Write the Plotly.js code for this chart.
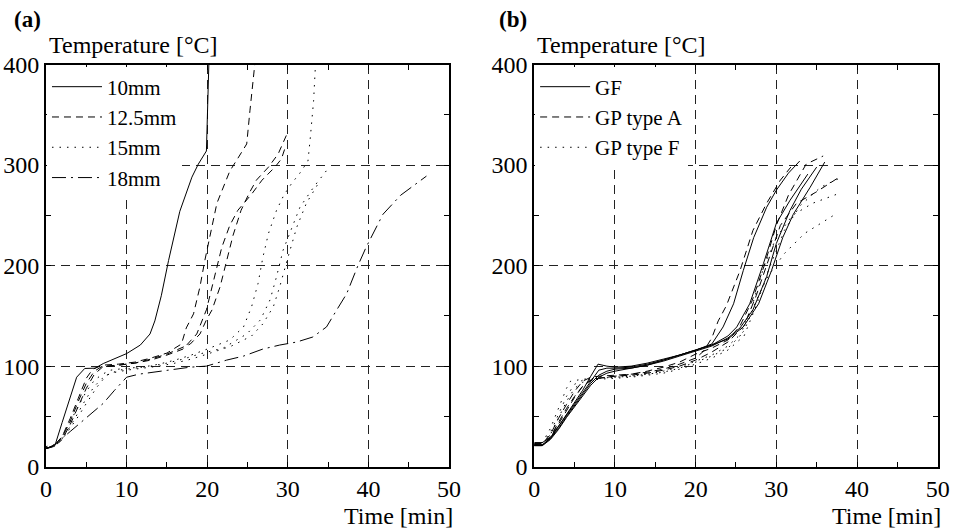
<!DOCTYPE html>
<html>
<head>
<meta charset="utf-8">
<script src="https://cdn.plot.ly/plotly-3.0.1.min.js"></script>
<style>html,body{margin:0;padding:0;background:#fff;}#plot{width:959px;height:528px;}</style>
</head>
<body>
<div id="plot"></div>
<script>
// ---------- Panel (a): slab thickness ----------
const a10_x = [0,1.1,2,3,3.8,4.8,6.1,7.1,8.5,10,11.7,12.9,13.5,14.3,15.2,16.6,18.1,18.9,19.9,20.1,20.2];
const a10_y = [18,21,44,69,89,97.7,98,102.6,107,112.5,121,132,145,170,205,254,288,301,314,360,400];

const a125A_x = [0,1,2,3,4,5,5.8,7,9,11,13,15,16.8,17.4,18.3,19.1,19.7,20.6,21.2,21.6,22.8,23.9,24.9,25.3,25.9];
const a125A_y = [18,21,30,48,68,88,97,101,102,104,108,113,122,138,152,179,205,238,262,270,294,308,321,354,400];
const a125B_x = [0,1,2,3,4,5,6,7,9,11,13,15,17.9,19.1,19.9,20.6,21.6,22.4,23.2,24.2,25.2,26.1,27.6,28.8,29.9];
const a125B_y = [18,20,27,42,60,78,92,99,101,103,107,112,122,132,146,156,179,205,230,255,272,285,298,311,331];
const a125C_x = [0,1,2,3,4,5,6,7,9,11,13,15,17,18.7,19.9,20.9,21.8,22.8,23.8,25.5,26.8,28.4,29.2,29.7];
const a125C_y = [18,21,29,45,65,83,95,100,101,103,106,111,117,132,156,189,218,240,255,271,285,298,306,318];

const a15A_x = [0,1,2,3,4,5,6,7,8,10,12,14,16,18,20,21.2,22.8,24.5,25.5,26.3,26.9,27.6,28.6,29.5,30.5,31.5,32.5,32.8,33.2,33.4];
const a15A_y = [18,21,30,45,60,75,86,92,96,98,99,102,106,111,117,121,126,139,159,182,208,232,255,270,282,292,304,328,364,395];
const a15B_x = [0,1,2,3,4,5,6.3,7.5,9,11,13,15,17,19,22,24.9,26.6,27.8,28.6,29.4,30.7,31.5,33.2,34.8];
const a15B_y = [19,20,27,38,50,63,79,91,96,98,100,103,107,112,118,132,146,166,189,215,242,258,278,294.5];
const a15C_x = [0,1,2,3,4,5,6,7,8,10,12,14,16,18,20,23,25.5,26.9,28.2,29,29.9,31.1,32.3,34];
const a15C_y = [20,22,28,40,54,68,80,88,93,96,98,100,103,107,112,120,130,142,159,179,205,238,262,284.6];

const a18_x = [0,1.1,3,5,7.1,8.5,10,11.5,13.3,15.5,17.9,19.9,22.4,24.5,26.9,29,31.1,33.1,34.8,36,37.3,38.7,39.7,41.8,44,47.2];
const a18_y = [18,22,35,49,63,76,89,92,94,96,99,100,106,110,117,121,124,129,139,155,172,200,218,251,270,289];

// ---------- Panel (b): gypsum board types ----------
const bGF1_x = [0,1,2,3,4,5,6,7,7.9,9,10,12,14,16,18,20,22,23.4,24.7,25.9,27.2,28.8,30,31.5,32.9];
const bGF1_y = [21,21,28,40,52,63,76,90,102,100,99,100,103,107,111,116,122,139,162,195,228,258,275,292,304];
const bGF2_x = [0,1,2,3,4,5,6,7,8,9,10,12,14,16,18,20,22,24,25.1,26.7,28.4,30,31.7,33.9];
const bGF2_y = [24,24,29,40,51,62,73,85,96,98,98,99,102,106,111,116,121,130,139,162,202,242,265,291];
const bGF3_x = [0,1,2,3,4,5,6,7,8,9,10,12,14,16,18,20,22,24,25.9,27.8,29.4,30.8,32.1,34.2,36];
const bGF3_y = [21,21,27,37,49,60,71,81,89,93,95,98,101,106,111,116,121,127,139,162,195,228,251,278,303];
const bGF4_x = [0,1,2,3,4,5,6,7,8,9,10,12,14,16,18,20,22,24,25.5,27.1,28.8,30,31.7,33.1,35];
const bGF4_y = [22,22,28,38,50,61,72,83,91,95,97,98,101,105,110,115,120,128,138,156,189,222,255,276,298];

const bA1_x = [0,1,2,3,4,5,6,7,8,10,12,14,16,18,20,21,22,22.8,23.8,25.5,27.1,28.8,30.5,31.8];
const bA1_y = [22,23,32,48,62,75,85,89,90,91,92,94,97,102,108,115,128,145,160,195,235,262,285,298];
const bA2_x = [0,1,2,3,4,5,6,7,8,10,12,14,16,18,20,22,24,25.5,27,28.5,30,31.5,33.7,35.8];
const bA2_y = [23,23,30,44,58,70,80,86,88,90,92,95,99,104,112,118,126,140,165,200,240,270,301,309];
const bA3_x = [0,1,2,3,4,5,6,7,8,10,12,14,16,18,20,22,24,26,27.5,29,30.5,32.5,34.9,37.8];
const bA3_y = [21,21,29,42,56,69,80,86,88,90,91,93,96,100,106,114,124,140,170,205,240,262,273,288];

const bF1_x = [0,1,2,3,4,4.5,6,8,10,12,14,16,18,20,22,24,25.5,27,28.5,30,32,34.5,37.5];
const bF1_y = [22,24,38,58,78,85,87,88,89,90,92,94,98,104,110,118,130,160,200,228,250,262,271];
const bF2_x = [0,1,2,3,4,5,6,8,10,12,14,16,18,20,22,24,26,27.5,29,31,33.5,37.1];
const bF2_y = [23,24,34,52,70,82,86,88,89,90,92,95,99,105,111,120,135,165,190,212,232,250];
const bF3_x = [0,1,2,3,4,5,6,8,10,12,14,16,18,20,22,24,26,27.5,29,31,33,35.5,38.1];
const bF3_y = [21,22,32,48,65,78,84,87,88,89,91,93,97,102,108,116,130,160,195,235,260,278,288];

const xTickVals = [0,10,20,30,40,50];
const yTickVals = [0,100,200,300,400];
const xTitle = 'Time [min]';
const yTitle = 'Temperature [°C]';

const FONT = "'Liberation Serif'";
const DASH = {solid:'solid', dash:'7px,5px', dot:'1.5px,6px', dashdot:'14px,5px,2px,5px'};

function tr(x, y, name, dash, ax, leg, show, grp, w) {
  return {x:x, y:y, type:'scatter', mode:'lines', name:name, legendgroup:grp,
    showlegend:show, legend:leg, xaxis:ax[0], yaxis:ax[1],
    line:{color:'#000', width:w||1, dash:DASH[dash]}, hoverinfo:'skip'};
}
const A = ['x','y'], B = ['x2','y2'];
const data = [
  tr(a10_x,a10_y,'10mm','solid',A,'legend',true,'a10'),
  tr(a125A_x,a125A_y,'12.5mm','dash',A,'legend',true,'a125'),
  tr(a125B_x,a125B_y,'12.5mm','dash',A,'legend',false,'a125'),
  tr(a125C_x,a125C_y,'12.5mm','dash',A,'legend',false,'a125'),
  tr(a15A_x,a15A_y,'15mm','dot',A,'legend',true,'a15'),
  tr(a15B_x,a15B_y,'15mm','dot',A,'legend',false,'a15'),
  tr(a15C_x,a15C_y,'15mm','dot',A,'legend',false,'a15'),
  tr(a18_x,a18_y,'18mm','dashdot',A,'legend',true,'a18'),
  tr(bGF1_x,bGF1_y,'GF','solid',B,'legend2',true,'gf'),
  tr(bGF2_x,bGF2_y,'GF','solid',B,'legend2',false,'gf'),
  tr(bGF3_x,bGF3_y,'GF','solid',B,'legend2',false,'gf'),
  tr(bGF4_x,bGF4_y,'GF','solid',B,'legend2',false,'gf'),
  tr(bA1_x,bA1_y,'GP type A','dash',B,'legend2',true,'ga'),
  tr(bA2_x,bA2_y,'GP type A','dash',B,'legend2',false,'ga'),
  tr(bA3_x,bA3_y,'GP type A','dash',B,'legend2',false,'ga'),
  tr(bF1_x,bF1_y,'GP type F','dot',B,'legend2',true,'gpf'),
  tr(bF2_x,bF2_y,'GP type F','dot',B,'legend2',false,'gpf'),
  tr(bF3_x,bF3_y,'GP type F','dot',B,'legend2',false,'gpf')
];

function xa(domain, anchor) {
  return {domain:domain, anchor:anchor, range:[0,50], tickvals:xTickVals, ticktext:xTickVals.map(String),
    ticks:'inside', ticklen:5, tickcolor:'#000', showline:true, linecolor:'#000', linewidth:2, mirror:'ticks',
    showgrid:true, gridcolor:'#222', gridwidth:1, griddash:'9px,6px', zeroline:false,
    minor:{dtick:5, tick0:0, ticks:'inside', ticklen:5, tickcolor:'#000', showgrid:false},
    tickfont:{family:FONT, size:24, color:'#000'}, fixedrange:true};
}
function ya(domain, anchor) {
  return {domain:domain, anchor:anchor, range:[0,400], tickvals:yTickVals, ticktext:yTickVals.map(String),
    ticks:'inside', ticklen:5, tickcolor:'#000', showline:true, linecolor:'#000', linewidth:2, mirror:'ticks',
    showgrid:true, gridcolor:'#222', gridwidth:1, griddash:'9px,6px', zeroline:false,
    minor:{dtick:50, tick0:0, ticks:'inside', ticklen:5, tickcolor:'#000', showgrid:false},
    tickfont:{family:FONT, size:24, color:'#000'}, fixedrange:true};
}
const yDom = [0.1161, 0.8778];
const layout = {
  width:959, height:528, margin:{l:0,r:0,t:0,b:0}, paper_bgcolor:'#fff', plot_bgcolor:'#fff',
  font:{family:FONT, size:22, color:'#000'},
  xaxis: xa([0.048,0.4682],'y'), yaxis: ya(yDom,'x'),
  xaxis2: xa([0.5571,0.9778],'y2'), yaxis2: ya(yDom,'x2'),
  legend:{x:0.049, y:0.874, xanchor:'left', yanchor:'top', bgcolor:'#fff', borderwidth:0,
    font:{family:FONT, size:21, color:'#000'}, itemwidth:50, tracegroupgap:0},
  legend2:{x:0.558, y:0.874, xanchor:'left', yanchor:'top', bgcolor:'#fff', borderwidth:0,
    font:{family:FONT, size:21, color:'#000'}, itemwidth:50, tracegroupgap:0},
  showlegend:true,
  annotations:[
    {text:'<b>(a)</b>', xref:'paper', yref:'paper', x:0.012, y:1-20/528, xanchor:'left', yanchor:'middle', showarrow:false, font:{family:FONT,size:23}},
    {text:'<b>(b)</b>', xref:'paper', yref:'paper', x:0.518, y:1-20/528, xanchor:'left', yanchor:'middle', showarrow:false, font:{family:FONT,size:23}},
    {text:yTitle, xref:'paper', yref:'paper', x:0.049, y:1-45/528, xanchor:'left', yanchor:'middle', showarrow:false, font:{family:FONT,size:24}},
    {text:yTitle, xref:'paper', yref:'paper', x:0.558, y:1-45/528, xanchor:'left', yanchor:'middle', showarrow:false, font:{family:FONT,size:24}},
    {text:xTitle, xref:'paper', yref:'paper', x:455/959, y:1-516/528, xanchor:'right', yanchor:'middle', showarrow:false, font:{family:FONT,size:24}},
    {text:xTitle, xref:'paper', yref:'paper', x:943/959, y:1-516/528, xanchor:'right', yanchor:'middle', showarrow:false, font:{family:FONT,size:24}}
  ]
};
Plotly.newPlot('plot', data, layout, {displayModeBar:false, staticPlot:true});
</script>
</body>
</html>
